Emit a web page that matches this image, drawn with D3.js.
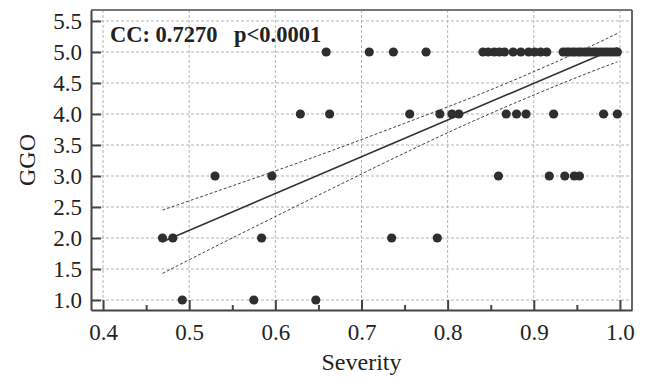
<!DOCTYPE html>
<html>
<head>
<meta charset="utf-8">
<script src="https://cdn.jsdelivr.net/npm/d3@7"></script>
<style>
  html, body { margin: 0; padding: 0; background: #ffffff; }
  svg { display: block; }
  text { font-family: "Liberation Serif", "Times New Roman", serif; fill: #222; }
</style>
</head>
<body>
<svg id="chart" width="646" height="378"></svg>
<script>
// Severity vs GGO score, one entry per case, grouped by GGO level
const severity5 = [0.659, 0.709, 0.737, 0.775,
  0.841, 0.847, 0.854, 0.860, 0.866,
  0.876, 0.885, 0.894, 0.901, 0.908, 0.915,
  0.934, 0.938, 0.941, 0.945, 0.948, 0.952, 0.955, 0.959, 0.962,
  0.966, 0.970, 0.973, 0.977, 0.981, 0.985, 0.989, 0.993, 0.997];
const severity4 = [0.629, 0.663, 0.756, 0.791, 0.805, 0.813, 0.868, 0.880, 0.891, 0.923, 0.981, 0.997];
const severity3 = [0.530, 0.596, 0.859, 0.918, 0.936, 0.947, 0.953];
const severity2 = [0.469, 0.481, 0.584, 0.735, 0.788];
const severity1 = [0.492, 0.575, 0.647];

const ggoLevels = [5, 4, 3, 2, 1];
const severityByLevel = [severity5, severity4, severity3, severity2, severity1];

// fitted regression line and its 95% confidence band
const fitSeverity = [0.469, 0.997];
const fitGGO = [1.94, 5.07];
const bandSeverity = [0.469, 0.55, 0.65, 0.75, 0.85, 0.95, 0.997];
const bandUpper = [2.45, 2.84, 3.33, 3.85, 4.39, 4.99, 5.30];
const bandLower = [1.43, 2.00, 2.69, 3.37, 4.01, 4.59, 4.84];

const xTicks = [0.4, 0.5, 0.6, 0.7, 0.8, 0.9, 1.0];
const xMinorTicks = [0.45, 0.55, 0.65, 0.75, 0.85, 0.95];
const yTicks = [1.0, 1.5, 2.0, 2.5, 3.0, 3.5, 4.0, 4.5, 5.0, 5.5];

const ccText = "CC: 0.7270";
const pText = "p<0.0001";

const points = [];
ggoLevels.forEach((g, i) => severityByLevel[i].forEach(s => points.push({ s, g })));

const svg = d3.select("#chart");
const plotLeft = 91, plotRight = 632, plotTop = 10, plotBottom = 310;

const x = d3.scaleLinear().domain([0.386, 1.014]).range([plotLeft, plotRight]);
const y = d3.scaleLinear().domain([0.839, 5.677]).range([plotBottom, plotTop]);

// grid
const grid = svg.append("g").attr("stroke", "#b4b4b4").attr("stroke-width", 1)
  .attr("stroke-dasharray", "3,2");
grid.selectAll("line.gx").data(xTicks).join("line")
  .attr("x1", d => x(d)).attr("x2", d => x(d)).attr("y1", plotTop).attr("y2", plotBottom);
grid.selectAll("line.gy").data(yTicks).join("line")
  .attr("y1", d => y(d)).attr("y2", d => y(d)).attr("x1", plotLeft).attr("x2", plotRight);

// regression line with confidence band
const bandLine = d3.line().x(d => x(d[0])).y(d => y(d[1])).curve(d3.curveNatural);
svg.append("path").attr("d", bandLine(bandSeverity.map((s, i) => [s, bandUpper[i]])))
  .attr("fill", "none").attr("stroke", "#444").attr("stroke-width", 1).attr("stroke-dasharray", "3,2");
svg.append("path").attr("d", bandLine(bandSeverity.map((s, i) => [s, bandLower[i]])))
  .attr("fill", "none").attr("stroke", "#444").attr("stroke-width", 1).attr("stroke-dasharray", "3,2");
svg.append("path").attr("d", d3.line().x(d => x(d[0])).y(d => y(d[1]))(fitSeverity.map((s, i) => [s, fitGGO[i]])))
  .attr("fill", "none").attr("stroke", "#333").attr("stroke-width", 1.6);

// points
svg.append("g").selectAll("circle").data(points).join("circle")
  .attr("cx", d => x(d.s)).attr("cy", d => y(d.g)).attr("r", 4.6).attr("fill", "#2e2e2e");

// frame: top and right
svg.append("line").attr("x1", plotLeft).attr("x2", plotRight).attr("y1", plotTop).attr("y2", plotTop)
  .attr("stroke", "#777").attr("stroke-width", 2);
svg.append("line").attr("x1", plotRight).attr("x2", plotRight).attr("y1", plotTop).attr("y2", plotBottom)
  .attr("stroke", "#666").attr("stroke-width", 2);

// axes with inward ticks
svg.append("g").attr("transform", `translate(0,${plotBottom})`)
  .call(d3.axisBottom(x).tickValues(xTicks).tickSizeInner(-10).tickSizeOuter(0)
    .tickPadding(14).tickFormat(d3.format(".1f")));
svg.append("g").attr("transform", `translate(0,${plotBottom})`)
  .call(d3.axisBottom(x).tickValues(xMinorTicks).tickSizeInner(-5).tickSizeOuter(0).tickFormat(""))
  .call(g => g.select(".domain").remove());
const yAxis = svg.append("g").attr("transform", `translate(${plotLeft},0)`)
  .call(d3.axisLeft(y).tickValues(yTicks).tickSizeInner(-10).tickSizeOuter(0)
    .tickPadding(9).tickFormat(d3.format(".1f")));

svg.selectAll(".domain").attr("stroke", "#444").attr("stroke-width", 2);
svg.selectAll(".tick line").attr("stroke", "#444").attr("stroke-width", 2);
svg.selectAll(".tick text").attr("font-family", "Liberation Serif, serif").attr("font-size", 23).attr("fill", "#222");
yAxis.selectAll(".tick text").attr("dy", "0.34em");

// axis titles
svg.append("text").attr("x", (plotLeft + plotRight) / 2).attr("y", 370).attr("text-anchor", "middle")
  .attr("font-size", 24).text("Severity");
svg.append("text").attr("transform", "translate(35,160) rotate(-90)").attr("text-anchor", "middle")
  .attr("font-size", 24).text("GGO");

// annotation
svg.append("text").attr("x", 110).attr("y", 42).attr("font-size", 22.5).attr("font-weight", "bold")
  .text(ccText);
svg.append("text").attr("x", 234).attr("y", 42).attr("font-size", 22.5).attr("font-weight", "bold")
  .text(pText);
</script>
</body>
</html>
